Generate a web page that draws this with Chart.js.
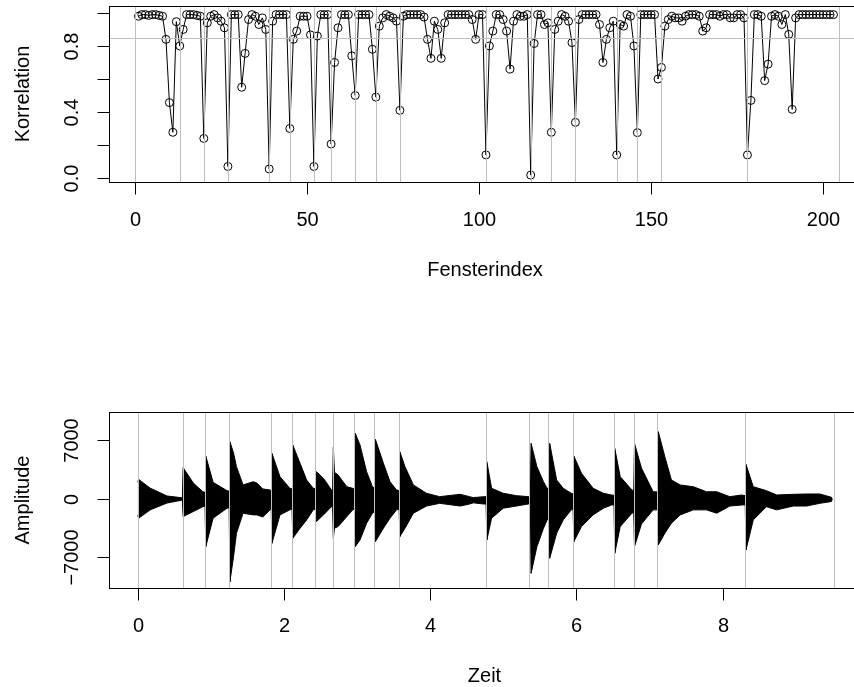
<!DOCTYPE html>
<html>
<head>
<meta charset="utf-8">
<script src="https://cdn.jsdelivr.net/npm/chart.js@4"></script>
<style>
  html, body { margin: 0; padding: 0; background: #fff; overflow: hidden; width: 854px; height: 687px; }
  canvas { position: absolute; left: 0; }
  #oben { top: 0; }
  #unten { top: 343px; }
</style>
</head>
<body>
<canvas id="oben" width="880" height="343"></canvas>
<canvas id="unten" width="880" height="344"></canvas>
<script>
// Korrelation je Fenster (Index 1..203)
const korrelation = [
  0.98, 0.99, 0.99, 0.985, 0.99, 0.99, 0.985, 0.98, 0.84, 0.457,
  0.277, 0.947, 0.80, 0.90, 0.99, 0.99, 0.99, 0.985, 0.98, 0.24,
  0.94, 0.98, 0.99, 0.97, 0.95, 0.91, 0.07, 0.99, 0.99, 0.99,
  0.55, 0.755, 0.96, 0.99, 0.98, 0.93, 0.97, 0.90, 0.055, 0.95,
  0.99, 0.99, 0.99, 0.99, 0.30, 0.84, 0.89, 0.98, 0.98, 0.98,
  0.867, 0.07, 0.86, 0.99, 0.99, 0.99, 0.206, 0.70, 0.91, 0.99,
  0.99, 0.99, 0.74, 0.50, 0.99, 0.99, 0.99, 0.99, 0.78, 0.49,
  0.92, 0.97, 0.99, 0.98, 0.97, 0.95, 0.41, 0.98, 0.99, 0.99,
  0.99, 0.99, 0.99, 0.975, 0.84, 0.725, 0.95, 0.90, 0.725, 0.94,
  0.99, 0.99, 0.99, 0.99, 0.99, 0.99, 0.99, 0.96, 0.84, 0.99,
  0.99, 0.14, 0.80, 0.89, 0.99, 0.99, 0.96, 0.89, 0.66, 0.95,
  0.99, 0.98, 0.98, 0.99, 0.018, 0.815, 0.99, 0.99, 0.93, 0.94,
  0.277, 0.90, 0.95, 0.99, 0.98, 0.95, 0.82, 0.337, 0.96, 0.99,
  0.99, 0.99, 0.99, 0.99, 0.93, 0.70, 0.84, 0.91, 0.95, 0.14,
  0.93, 0.92, 0.99, 0.98, 0.80, 0.275, 0.99, 0.99, 0.99, 0.99,
  0.99, 0.60, 0.67, 0.92, 0.96, 0.98, 0.97, 0.97, 0.95, 0.98,
  0.99, 0.99, 0.99, 0.98, 0.89, 0.91, 0.99, 0.99, 0.99, 0.98,
  0.99, 0.99, 0.97, 0.97, 0.99, 0.99, 0.97, 0.14, 0.47, 0.99,
  0.99, 0.98, 0.59, 0.69, 0.98, 0.99, 0.98, 0.93, 0.99, 0.87,
  0.416, 0.97, 0.99, 0.99, 0.99, 0.99, 0.99, 0.99, 0.99, 0.99,
  0.99, 0.99, 0.99
];
const schwelle = 0.85;
const onsetFenster = [0, 13, 20, 27, 39, 45, 52, 57, 64, 70, 77, 102, 115, 121, 128, 140, 146, 153, 178, 204.7];
const fensterTicks = [0, 50, 100, 150, 200];
const korrTicks = [0, 0.2, 0.4, 0.6, 0.8, 1.0];
const korrTickLabels = ['0.0', '', '0.4', '', '0.8', ''];

// Hüllkurve des Signals (Zeit in s, obere / untere Amplitude)
const zeit = [
  0.00, 0.01, 0.17, 0.40, 0.60, 0.61, 0.62, 0.76, 0.89, 0.92,
  0.93, 1.03, 1.22, 1.25, 1.26, 1.31, 1.35, 1.44, 1.58, 1.63,
  1.71, 1.81, 1.825, 1.835, 1.945, 2.08, 2.11, 2.12, 2.22, 2.31,
  2.40, 2.435, 2.445, 2.54, 2.65, 2.665, 2.675, 2.69, 2.74, 2.86,
  2.94, 2.965, 2.975, 3.04, 3.13, 3.21, 3.24, 3.25, 3.36, 3.45,
  3.54, 3.575, 3.585, 3.655, 3.77, 3.95, 4.13, 4.41, 4.54, 4.59,
  4.73, 4.765, 4.775, 4.84, 5.00, 5.18, 5.34, 5.37, 5.38, 5.46,
  5.55, 5.60, 5.625, 5.635, 5.73, 5.82, 5.93, 5.955, 5.965, 6.07,
  6.23, 6.37, 6.48, 6.515, 6.525, 6.60, 6.76, 6.785, 6.795, 6.89,
  7.05, 7.11, 7.12, 7.21, 7.30, 7.42, 7.60, 7.78, 7.92, 8.10,
  8.26, 8.31, 8.32, 8.42, 8.60, 8.74, 8.97, 9.15, 9.33, 9.49,
  9.50
];
const ampOben = [
  2000, 2360, 1300, 360, 150, 150, 3750, 1900, 870, 800,
  5150, 2000, 1000, 950, 6860, 5500, 3870, 1680, 2070, 1900,
  1200, 1080, 1000, 5470, 2670, 1280, 1200, 6460, 4270, 2270,
  1280, 1200, 3270, 2470, 1080, 1000, 6200, 3200, 2870, 1470,
  1280, 1200, 7860, 6460, 3270, 1470, 1300, 7140, 4270, 2070,
  1080, 1000, 5660, 3870, 1680, 680, 280, 560, 280, 160,
  280, 280, 4470, 1280, 680, 400, 280, 280, 6660, 3870,
  2070, 1280, 1200, 6660, 2270, 1280, 680, 650, 5150, 3070,
  1280, 680, 480, 450, 6060, 2670, 1080, 1000, 6660, 3700,
  870, 850, 8060, 5070, 2270, 1680, 1470, 870, 870, 280,
  480, 400, 4150, 1470, 1000, 480, 560, 600, 600, 200,
  0
];
const ampUnten = [
  -1900, -2310, -1300, -480, -150, -150, -2100, -1500, -920, -850,
  -5700, -2300, -1100, -1050, -9900, -6900, -4100, -1700, -1900, -1900,
  -2150, -1300, -1200, -5300, -1900, -1300, -1200, -4700, -3500, -2500,
  -1300, -1200, -2700, -1900, -920, -900, -4700, -3500, -3300, -2100,
  -1300, -1200, -5700, -4900, -2900, -1700, -1500, -5100, -3500, -2300,
  -1300, -1200, -4500, -3500, -1700, -840, -520, -840, -600, -460,
  -600, -600, -4900, -2300, -1100, -840, -600, -600, -8900, -5700,
  -3500, -2500, -2300, -7100, -4100, -2500, -1300, -1200, -5100, -3300,
  -1900, -1100, -720, -700, -6500, -3300, -1700, -1600, -5700, -3000,
  -1300, -1300, -5500, -4100, -2900, -1900, -1300, -1300, -1700, -840,
  -720, -700, -6100, -2500, -920, -1300, -840, -840, -520, -300,
  0
];
const onsetZeit = [0, 0.62, 0.92, 1.25, 1.82, 2.11, 2.42, 2.67, 2.96, 3.23, 3.57, 4.76, 5.35, 5.61, 5.95, 6.51, 6.79, 7.10, 8.30, 9.52];
const zeitTicks = [0, 2, 4, 6, 8];
const ampTicks = [-7000, 0, 7000];
const ampTickLabels = ['\u22127000', '0', '7000'];

const FONT = '20px "Liberation Sans", Arial, Helvetica, sans-serif';
const GRAU = '#bebebe';

// R-artige Achsen, Box und Hilfslinien
function rAchsen(o) {
  return {
    id: 'rAchsen',
    afterDatasetsDraw(chart) {
      const { ctx, chartArea: a, scales: { x, y } } = chart;
      ctx.save();
      ctx.lineWidth = 1;
      ctx.strokeStyle = GRAU;
      o.vLinien.forEach(v => {
        const px = Math.round(x.getPixelForValue(v)) + 0.5;
        ctx.beginPath(); ctx.moveTo(px, a.top); ctx.lineTo(px, a.bottom); ctx.stroke();
      });
      (o.hLinien || []).forEach(v => {
        const py = Math.round(y.getPixelForValue(v)) + 0.5;
        ctx.beginPath(); ctx.moveTo(a.left, py); ctx.lineTo(a.right, py); ctx.stroke();
      });

      ctx.strokeStyle = '#000';
      ctx.strokeRect(Math.round(a.left) + 0.5, Math.round(a.top) + 0.5,
        Math.round(a.right - a.left), Math.round(a.bottom - a.top));

      ctx.fillStyle = '#000';
      ctx.font = FONT;
      ctx.textAlign = 'center';
      ctx.textBaseline = 'middle';
      const unten = Math.round(a.bottom) + 0.5;
      o.xTicks.forEach(v => {
        const px = Math.round(x.getPixelForValue(v)) + 0.5;
        ctx.beginPath(); ctx.moveTo(px, unten); ctx.lineTo(px, unten + 12); ctx.stroke();
        ctx.fillText(String(v), px, a.bottom + 38);
      });
      const links = Math.round(a.left) + 0.5;
      o.yTicks.forEach((v, i) => {
        const py = Math.round(y.getPixelForValue(v)) + 0.5;
        ctx.beginPath(); ctx.moveTo(links - 12, py); ctx.lineTo(links, py); ctx.stroke();
        const lab = o.yLabels[i];
        if (lab) {
          ctx.save();
          ctx.translate(72, py);
          ctx.rotate(-Math.PI / 2);
          ctx.fillText(lab, 0, 0);
          ctx.restore();
        }
      });
      ctx.fillText(o.xTitel, (a.left + a.right) / 2, a.bottom + 88);
      ctx.save();
      ctx.translate(23, (a.top + a.bottom) / 2);
      ctx.rotate(-Math.PI / 2);
      ctx.fillText(o.yTitel, 0, 0);
      ctx.restore();
      ctx.restore();
    }
  };
}

const gemeinsam = {
  responsive: false,
  animation: false,
  events: [],
  plugins: { legend: { display: false }, tooltip: { enabled: false } }
};

new Chart(document.getElementById('oben'), {
  type: 'scatter',
  data: {
    datasets: [{
      data: korrelation.map((k, i) => ({ x: i + 1, y: k })),
      showLine: true,
      borderColor: '#000',
      borderWidth: 1,
      pointRadius: 4,
      pointBorderWidth: 1,
      pointBorderColor: '#000',
      pointBackgroundColor: 'rgba(0,0,0,0)'
    }]
  },
  options: {
    ...gemeinsam,
    layout: { padding: { left: 109, right: 19, top: 6, bottom: 161 } },
    scales: {
      x: { type: 'linear', display: false, min: -7.56, max: 211.0 },
      y: { type: 'linear', display: false, min: -0.024, max: 1.042 }
    }
  },
  plugins: [rAchsen({
    vLinien: onsetFenster, hLinien: [schwelle],
    xTicks: fensterTicks, yTicks: korrTicks, yLabels: korrTickLabels,
    xTitel: 'Fensterindex', yTitel: 'Korrelation'
  })]
});

new Chart(document.getElementById('unten'), {
  type: 'scatter',
  data: {
    datasets: [{
      data: zeit.map((t, i) => ({ x: t, y: ampOben[i] })),
      showLine: true, fill: '+1',
      borderColor: '#000', backgroundColor: '#000', borderWidth: 1, pointRadius: 0
    }, {
      data: zeit.map((t, i) => ({ x: t, y: ampUnten[i] })),
      showLine: true, fill: false,
      borderColor: '#000', borderWidth: 1, pointRadius: 0
    }]
  },
  options: {
    ...gemeinsam,
    layout: { padding: { left: 109, right: 20, top: 69, bottom: 99 } },
    scales: {
      x: { type: 'linear', display: false, min: -0.394, max: 9.88 },
      y: { type: 'linear', display: false, min: -10650, max: 10410 }
    }
  },
  plugins: [rAchsen({
    vLinien: onsetZeit,
    xTicks: zeitTicks, yTicks: ampTicks, yLabels: ampTickLabels,
    xTitel: 'Zeit', yTitel: 'Amplitude'
  })]
});
</script>
</body>
</html>
